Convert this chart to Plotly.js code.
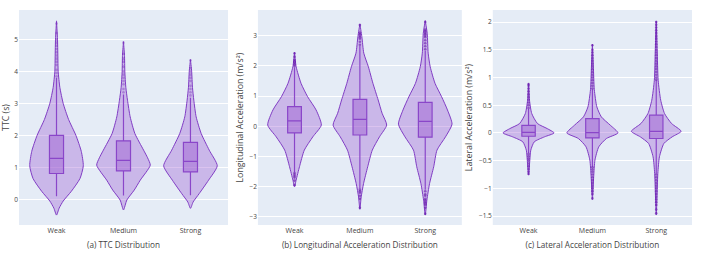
<!DOCTYPE html>
<html>
<head>
<meta charset="utf-8">
<script src="https://cdn.plot.ly/plotly-3.0.1.min.js"></script>
<style>html,body{margin:0;padding:0;background:#fff;}#chart{width:703px;height:254px;}</style>
</head>
<body>
<div id="chart"></div>
<script>
// ---------------- DATA ----------------
const categories = ['Weak', 'Medium', 'Strong'];

// Violin outlines: y levels and half-widths (category units), per category
// (a) TTC
const ttcWeakY  = [-0.49, -0.27, -0.05, 0.25, 0.65, 1.05, 1.5, 2.0, 2.5, 3.0, 3.5, 4.0, 4.5, 5.0, 5.58];
const ttcWeakW  = [0, 0.04, 0.10, 0.22, 0.35, 0.40, 0.37, 0.29, 0.18, 0.10, 0.05, 0.025, 0.02, 0.015, 0];
const ttcMedY   = [-0.33, -0.02, 0.29, 0.6, 1.07, 1.3, 1.54, 2.06, 2.58, 3.1, 3.5, 4.0, 4.5, 4.93];
const ttcMedW   = [0, 0.05, 0.16, 0.25, 0.40, 0.36, 0.30, 0.17, 0.10, 0.06, 0.035, 0.02, 0.015, 0];
const ttcStrY   = [-0.28, -0.08, 0.18, 0.6, 1.05, 1.54, 2.06, 2.58, 3.1, 3.5, 4.0, 4.37];
const ttcStrW   = [0, 0.04, 0.13, 0.27, 0.40, 0.28, 0.16, 0.085, 0.05, 0.03, 0.018, 0];
// box statistics
const ttcQ1  = [0.81, 0.89, 0.86];
const ttcMed = [1.28, 1.22, 1.19];
const ttcQ3  = [2.0, 1.83, 1.78];
const ttcLo  = [0.1, 0.12, 0.13];
const ttcHi  = [3.8, 3.28, 3.18];
// outliers
const ttcOutWeak = [3.85, 3.95, 4.05, 4.2, 4.3, 4.4, 4.5, 4.6, 4.7, 4.8, 4.9, 5.0, 5.2, 5.5];
const ttcOutMed  = [3.35, 3.45, 3.6, 3.7, 3.8, 3.9, 4.0, 4.15, 4.3, 4.4, 4.55, 4.9];
const ttcOutStr  = [3.25, 3.35, 3.45, 3.55, 3.7, 3.8, 3.9, 4.0, 4.1, 4.35];

// (b) Longitudinal acceleration
const lonWeakY = [-2.0, -1.78, -1.34, -0.79, -0.35, 0.04, 0.54, 0.98, 1.42, 1.97, 2.45];
const lonWeakW = [0, 0.025, 0.076, 0.15, 0.28, 0.41, 0.33, 0.20, 0.10, 0.025, 0];
const lonMedY  = [-2.75, -2.34, -1.9, -1.34, -0.79, -0.35, 0.04, 0.43, 0.87, 1.42, 1.97, 2.42, 2.97, 3.39];
const lonMedW  = [0, 0.02, 0.056, 0.12, 0.19, 0.30, 0.41, 0.34, 0.28, 0.20, 0.13, 0.06, 0.03, 0];
const lonStrY  = [-2.94, -2.45, -1.9, -1.34, -0.79, -0.35, 0.07, 0.54, 0.98, 1.42, 1.97, 2.42, 3.08, 3.5];
const lonStrW  = [0, 0.025, 0.066, 0.13, 0.18, 0.31, 0.41, 0.34, 0.25, 0.15, 0.076, 0.045, 0.03, 0];
const lonQ1  = [-0.22, -0.29, -0.36];
const lonMed = [0.18, 0.23, 0.16];
const lonQ3  = [0.65, 0.89, 0.79];
const lonLo  = [-1.52, -2.06, -2.1];
const lonHi  = [1.95, 2.66, 2.5];
const lonOutWeak = [2.0, 2.05, 2.1, 2.15, 2.2, 2.3, 2.42, -1.55, -1.6, -1.65, -1.7, -1.8, -1.95];
const lonOutMed  = [2.7, 2.8, 2.9, 2.95, 3.0, 3.05, 3.1, 3.35, -2.1, -2.15, -2.2, -2.3, -2.4, -2.7];
const lonOutStr  = [2.55, 2.65, 2.75, 2.85, 2.95, 3.0, 3.05, 3.1, 3.15, 3.2, 3.45,
                    -2.15, -2.25, -2.3, -2.4, -2.45, -2.5, -2.55, -2.6, -2.7, -2.9];

// (c) Lateral acceleration
const latWeakY = [-0.76, -0.49, -0.31, -0.16, -0.07, 0.0, 0.08, 0.17, 0.35, 0.59, 0.894];
const latWeakW = [0, 0.02, 0.035, 0.09, 0.25, 0.40, 0.29, 0.14, 0.05, 0.015, 0];
const latMedY  = [-1.2, -0.79, -0.49, -0.25, -0.1, 0.0, 0.14, 0.29, 0.47, 0.78, 1.2, 1.6];
const latMedW  = [0, 0.02, 0.04, 0.10, 0.22, 0.40, 0.28, 0.14, 0.07, 0.03, 0.015, 0];
const latStrY  = [-1.48, -0.73, -0.43, -0.19, -0.07, 0.03, 0.17, 0.35, 0.59, 0.95, 1.5, 2.02];
const latStrW  = [0, 0.025, 0.05, 0.12, 0.25, 0.39, 0.24, 0.13, 0.07, 0.03, 0.015, 0];
const latQ1  = [-0.06, -0.09, -0.10];
const latMed = [0.01, 0.006, 0.03];
const latQ3  = [0.136, 0.26, 0.32];
const latLo  = [-0.36, -0.61, -0.73];
const latHi  = [0.43, 0.785, 0.95];
const latOutWeak = [0.45, 0.5, 0.55, 0.6, 0.65, 0.7, 0.75, 0.8, 0.85, 0.88,
                    -0.38, -0.42, -0.46, -0.5, -0.55, -0.6, -0.65, -0.7, -0.74];
const latOutMed  = [0.8, 0.85, 0.9, 0.95, 1.0, 1.05, 1.1, 1.15, 1.2, 1.25, 1.3, 1.35, 1.4, 1.45, 1.5, 1.58,
                    -0.62, -0.66, -0.7, -0.75, -0.8, -0.85, -0.9, -0.95, -1.0, -1.05, -1.1, -1.18];
const latOutStr  = [0.96, 1.0, 1.05, 1.1, 1.15, 1.2, 1.25, 1.3, 1.35, 1.4, 1.45, 1.5, 1.55, 1.6, 1.65, 1.7, 1.75, 1.8, 1.85, 1.9, 1.95, 2.0,
                    -0.75, -0.8, -0.85, -0.9, -0.95, -1.0, -1.05, -1.1, -1.15, -1.2, -1.25, -1.3, -1.38, -1.45];

// ---------------- STYLE ----------------
const LINE = 'rgb(128, 60, 196)';
const FILL = 'rgba(155, 89, 210, 0.36)';
const BOXFILL = 'rgba(150, 80, 205, 0.42)';

const traces = [];
function violin(xa, ya, pos, ys, ws) {
  const xs = [], yy = [];
  for (let i = 0; i < ys.length; i++) { xs.push(pos - ws[i]); yy.push(ys[i]); }
  for (let i = ys.length - 1; i >= 0; i--) { xs.push(pos + ws[i]); yy.push(ys[i]); }
  traces.push({type: 'scatter', mode: 'lines', x: xs, y: yy, xaxis: xa, yaxis: ya,
    fill: 'toself', fillcolor: FILL, line: {color: LINE, width: 1, shape: 'spline', smoothing: 0.6},
    hoverinfo: 'skip', showlegend: false});
}
function boxes(xa, ya, q1, med, q3, lo, hi) {
  traces.push({type: 'box', x: [0, 1, 2], q1: q1, median: med, q3: q3, lowerfence: lo, upperfence: hi,
    xaxis: xa, yaxis: ya, width: 0.21, whiskerwidth: 0, fillcolor: BOXFILL,
    line: {color: LINE, width: 1.2}, boxpoints: false, hoverinfo: 'skip', showlegend: false});
}
function points(xa, ya, pos, vals, col) {
  traces.push({type: 'scatter', mode: 'markers', x: vals.map(() => pos), y: vals, xaxis: xa, yaxis: ya,
    marker: {color: col, size: 2.6}, hoverinfo: 'skip', showlegend: false});
}
const PT_LIGHT = 'rgba(110, 30, 180, 0.35)';
const PT = 'rgba(100, 20, 170, 0.6)';

violin('x', 'y', 0, ttcWeakY, ttcWeakW);
violin('x', 'y', 1, ttcMedY, ttcMedW);
violin('x', 'y', 2, ttcStrY, ttcStrW);
boxes('x', 'y', ttcQ1, ttcMed, ttcQ3, ttcLo, ttcHi);
points('x', 'y', 0, ttcOutWeak, PT_LIGHT); points('x', 'y', 1, ttcOutMed, PT_LIGHT); points('x', 'y', 2, ttcOutStr, PT_LIGHT);

violin('x2', 'y2', 0, lonWeakY, lonWeakW);
violin('x2', 'y2', 1, lonMedY, lonMedW);
violin('x2', 'y2', 2, lonStrY, lonStrW);
boxes('x2', 'y2', lonQ1, lonMed, lonQ3, lonLo, lonHi);
points('x2', 'y2', 0, lonOutWeak, PT); points('x2', 'y2', 1, lonOutMed, PT); points('x2', 'y2', 2, lonOutStr, PT);

violin('x3', 'y3', 0, latWeakY, latWeakW);
violin('x3', 'y3', 1, latMedY, latMedW);
violin('x3', 'y3', 2, latStrY, latStrW);
boxes('x3', 'y3', latQ1, latMed, latQ3, latLo, latHi);
points('x3', 'y3', 0, latOutWeak, PT); points('x3', 'y3', 1, latOutMed, PT); points('x3', 'y3', 2, latOutStr, PT);

function xax(domain, anchor, title) {
  return {domain: domain, anchor: anchor, range: [-0.56, 2.56], tickvals: [0, 1, 2], ticktext: categories,
    showgrid: false, zeroline: false, ticks: '', tickfont: {size: 7}, automargin: false,
    title: {text: title, font: {size: 8.2, color: '#444'}, standoff: 8}};
}
function yax(anchor, range, dtick, title) {
  return {anchor: anchor, range: range, dtick: dtick, gridcolor: 'white', gridwidth: 1,
    zeroline: true, zerolinecolor: 'white', zerolinewidth: 1, ticks: '', tickfont: {size: 6.5},
    automargin: false, title: {text: title, font: {size: 8.8, color: '#444'}, standoff: 4}};
}

const layout = {
  width: 703, height: 254,
  margin: {l: 19, r: 11, t: 10, b: 29},
  paper_bgcolor: 'white', plot_bgcolor: '#E5ECF6',
  font: {family: '"Open Sans", sans-serif', size: 7, color: '#444'},
  showlegend: false,
  xaxis:  xax([0, 0.3105], 'y', '(a) TTC Distribution'),
  xaxis2: xax([0.355, 0.658], 'y2', '(b) Longitudinal Acceleration Distribution'),
  xaxis3: xax([0.704, 1], 'y3', '(c) Lateral Acceleration Distribution'),
  yaxis:  yax('x', [-0.8, 5.92], 1, 'TTC (s)'),
  yaxis2: yax('x2', [-3.27, 3.85], 1, 'Longitudinal Acceleration (m/s²)'),
  yaxis3: yax('x3', [-1.66, 2.217], 0.5, 'Lateral Acceleration (m/s²)')
};

Plotly.newPlot('chart', traces, layout, {displayModeBar: false, staticPlot: true});
</script>
</body>
</html>
